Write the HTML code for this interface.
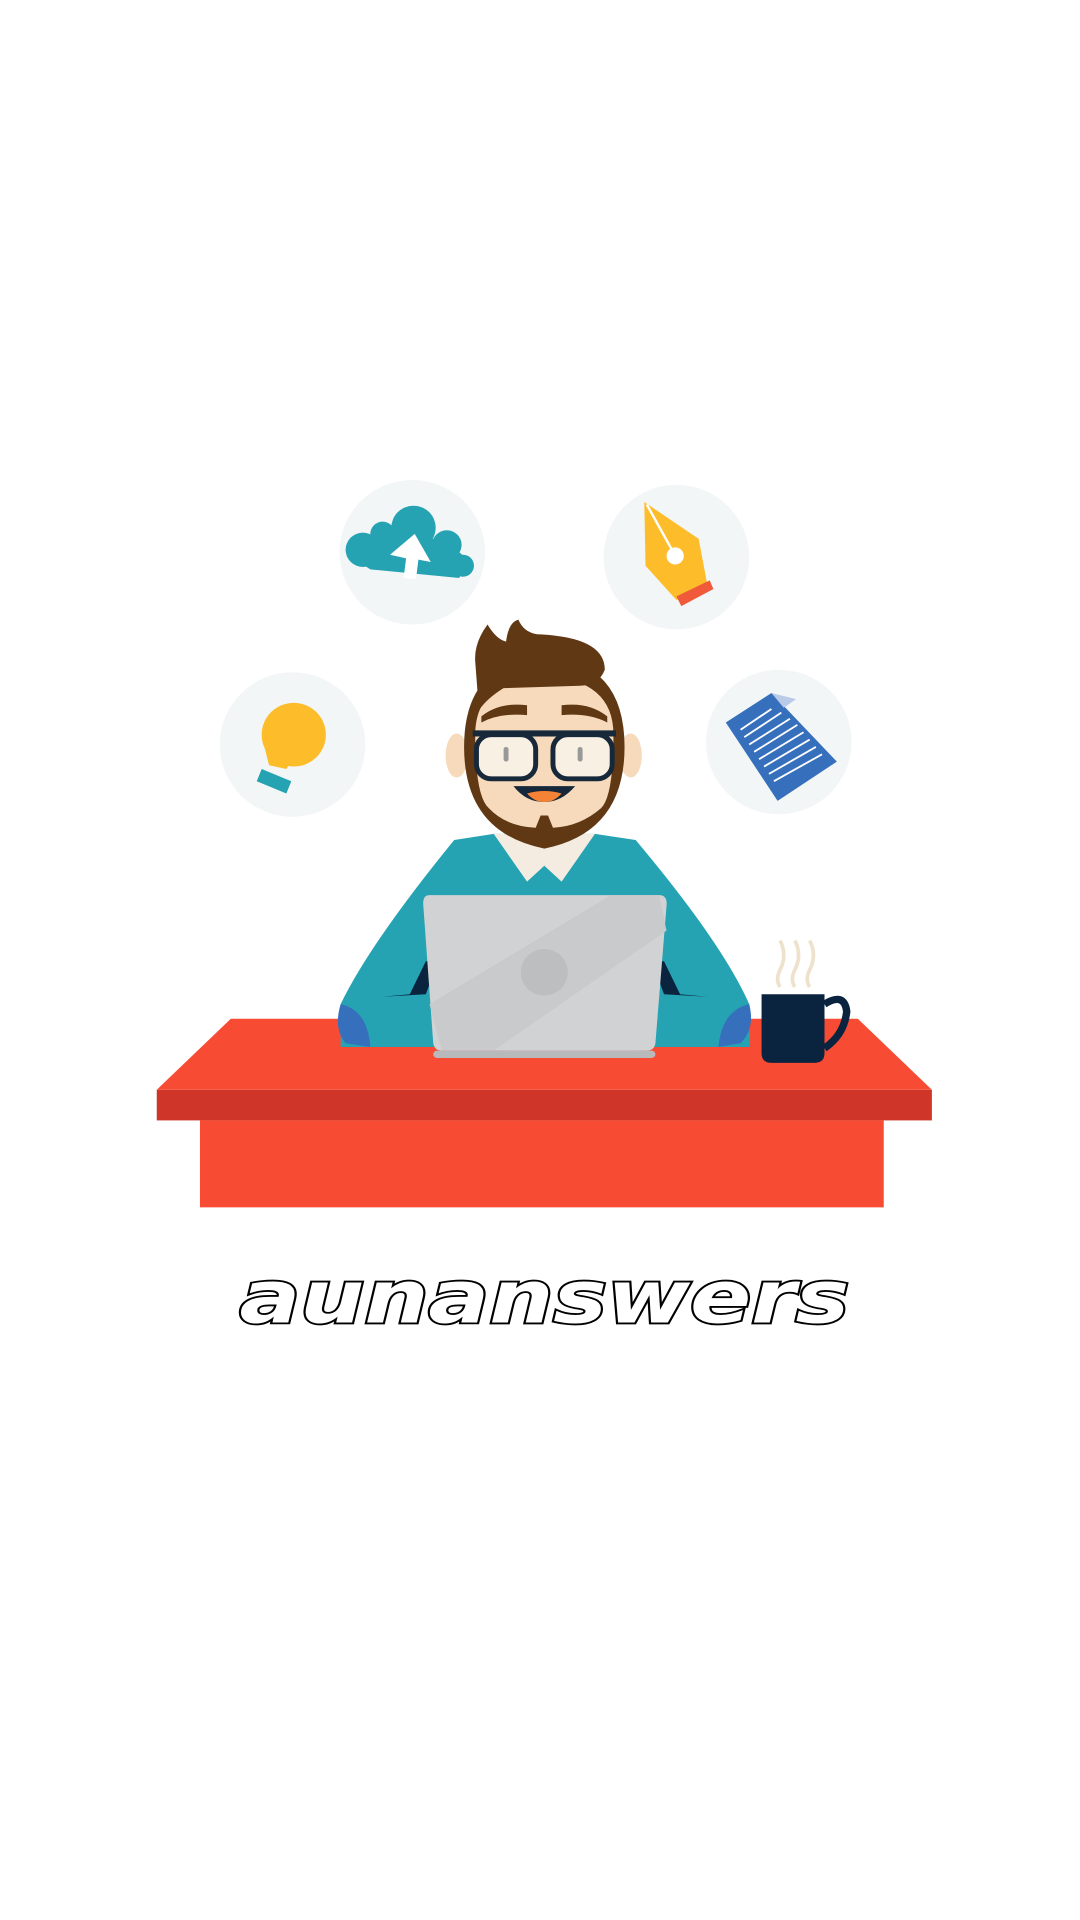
<!DOCTYPE html>
<html><head><meta charset="utf-8"><style>html,body{margin:0;padding:0;background:#fff}svg{display:block}</style></head><body>
<svg width="1080" height="1920" viewBox="0 0 875 1568" preserveAspectRatio="none" xmlns="http://www.w3.org/2000/svg">
<rect width="875" height="1568" fill="#fff"/>
<g fill="#f2f6f7">
<circle cx="334" cy="451" r="59"/><circle cx="548" cy="455" r="59"/>
<circle cx="237" cy="608" r="59"/><circle cx="631" cy="606" r="59"/>
</g>
<!-- cloud -->
<g fill="#26a3b3">
<circle cx="294" cy="449" r="14"/><circle cx="310" cy="436" r="10"/><circle cx="335" cy="431" r="18"/><circle cx="362" cy="445" r="12"/><circle cx="375" cy="462" r="9"/>
<path d="M285 455 L300 465 L372 472 L380 458 L360 440 L300 440Z"/>
</g>
<path d="M316 453 L336 436 L349 459 L339 457 L337 473 L327 472 L329 456Z" fill="#fff"/>
<!-- pen -->
<path d="M522 410 L566 440 L573 477 L548 490 L523 462Z" fill="#fdbd2a"/>
<path d="M524 412 L546 452" stroke="#fff" stroke-width="2"/>
<circle cx="547" cy="454" r="7" fill="#fff"/>
<path d="M548 487 L575 474 L578 481 L552 495Z" fill="#f05a3b"/>
<!-- bulb -->
<circle cx="238" cy="600" r="26" fill="#fdbd2a"/>
<path d="M213 605 L218 625 L232 628 L240 615Z" fill="#fdbd2a"/>
<path d="M212 628 L236 638 L232 648 L208 638Z" fill="#26a3b3"/>
<!-- doc -->
<path d="M588 590 L625 566 L678 622 L630 654Z" fill="#3670bd"/>
<path d="M625 566 L645 571 L635 578Z" fill="#b9cbe8"/>
<g stroke="#fff" stroke-width="1.5">
<line x1="600" y1="596" x2="625" y2="579"/><line x1="603" y1="602" x2="633" y2="582"/><line x1="607" y1="608" x2="640" y2="587"/><line x1="611" y1="614" x2="646" y2="592"/><line x1="615" y1="620" x2="651" y2="598"/><line x1="619" y1="626" x2="656" y2="604"/><line x1="623" y1="632" x2="661" y2="610"/><line x1="627" y1="638" x2="666" y2="616"/>
</g>
<!-- desk -->
<path d="M187 832 L695 832 L755 890 L127 890Z" fill="#f84b33"/>
<rect x="127" y="890" width="628" height="25" fill="#cf3629"/>
<rect x="162" y="915" width="554" height="71" fill="#f84b33"/>
<!-- body -->
<path d="M368 686 L400 681 L482 681 L515 686 Q585 770 607 820 L607 855 L276 855 L276 820 Q300 770 368 686Z" fill="#26a3b3"/>
<path d="M276 820 Q298 825 300 855 L280 852 Q270 840 276 820Z" fill="#3670bd"/>
<path d="M607 820 Q585 825 582 855 L600 852 Q612 840 607 820Z" fill="#3670bd"/>
<path d="M400 681 L427 720 L441 707 L455 720 L482 681Z" fill="#f4ece1"/>
<path d="M332 812 L345 785 L355 785 L345 812 L310 814Z M551 812 L538 785 L528 785 L538 812 L573 814Z" fill="#0a2440"/>
<!-- head -->
<ellipse cx="370" cy="617" rx="9" ry="18" fill="#f6dabb"/><ellipse cx="511" cy="617" rx="9" ry="18" fill="#f6dabb"/>
<path d="M376 610 Q376 540 441 536 Q506 540 506 610 Q506 680 441 693 Q376 680 376 610Z" fill="#603813"/>
<path d="M385 600 Q385 555 441 552 Q497 555 497 600 Q497 650 487 660 Q470 675 448 676 L444 666 L438 666 L434 676 Q410 675 396 660 Q385 650 385 600Z" fill="#f6dabb"/>
<path d="M385 540 Q384 525 395 510 Q402 522 410 524 Q412 508 420 506 Q424 516 435 518 Q490 520 490 547 Q485 560 470 560 L408 562 Q395 570 388 580 Z" fill="#603813"/>
<path d="M390 585 Q405 573 427 576 L427 584 Q405 582 390 590Z M492 585 Q477 573 455 576 L455 584 Q477 582 492 590Z" fill="#603813"/>
<path d="M383 599 L499 599" stroke="#16283a" stroke-width="5"/>
<rect x="386" y="600" width="48" height="36" rx="12" fill="#f8f0e3" stroke="#16283a" stroke-width="4"/>
<rect x="448" y="600" width="48" height="36" rx="12" fill="#f8f0e3" stroke="#16283a" stroke-width="4"/>
<rect x="408" y="610" width="4" height="12" rx="2" fill="#999"/><rect x="468" y="610" width="4" height="12" rx="2" fill="#999"/>
<path d="M416 642 L466 642 Q455 655 441 655 Q426 655 416 642Z" fill="#16283a"/>
<path d="M427 648 Q441 644 455 648 Q449 655 441 655 Q433 655 427 648Z" fill="#f48335"/>
<!-- laptop -->
<path d="M348 731 L534 731 Q541 731 540 740 L531 852 Q530 858 524 858 L358 858 Q352 858 351 852 L343 740 Q342 731 348 731Z" fill="#d1d2d4"/>
<path d="M348 820 L495 731 L534 731 L540 760 L400 858 L358 858Z" fill="#c9cacc"/>
<circle cx="441" cy="794" r="19" fill="#bdbebf"/>
<rect x="351" y="858" width="180" height="6" rx="3" fill="#b8b9bb"/>
<!-- mug -->
<g stroke="#efe2cc" stroke-width="3" fill="none"><path d="M632 768 Q638 780 632 792 Q628 800 632 806"/><path d="M644 768 Q650 780 644 792 Q640 800 644 806"/><path d="M656 768 Q662 780 656 792 Q652 800 656 806"/></g>
<path d="M617 812 L668 812 L668 860 Q668 868 660 868 L625 868 Q617 868 617 860Z" fill="#0a2440"/>
<path d="M668 820 Q684 810 686 826 Q684 845 668 856" stroke="#0a2440" stroke-width="6" fill="none"/>
<text x="194" y="1080" textLength="494" lengthAdjust="spacingAndGlyphs" font-family="'DejaVu Sans','Liberation Sans',sans-serif" font-weight="bold" font-style="italic" font-size="60" fill="#fff" stroke="#000" stroke-width="3" paint-order="stroke">aunanswers</text>
</svg>
</body></html>
